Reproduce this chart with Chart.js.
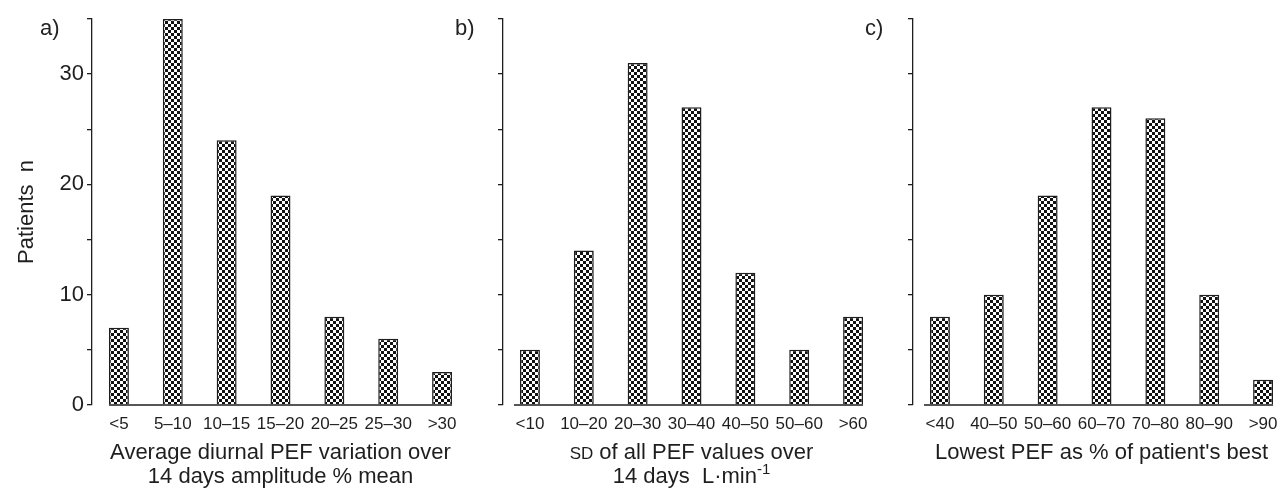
<!DOCTYPE html>
<html>
<head>
<meta charset="utf-8">
<script src="https://cdn.jsdelivr.net/npm/chart.js@4.4.1/dist/chart.umd.min.js"></script>
<style>
  html, body { margin: 0; background: #fff; overflow: hidden; width: 1277px; height: 489px; }
  .panel { position: absolute; top: 0; height: 489px; }
  .tag { position: absolute; top: 16px; font: 22px 'Liberation Sans', Arial, sans-serif; color: #222; line-height: 24px; }
</style>
</head>
<body>
<div class="panel" style="left:0;width:479px"><canvas id="chartA"></canvas></div>
<div class="panel" style="left:460px;width:430px"><canvas id="chartB"></canvas></div>
<div class="panel" style="left:870px;width:430px"><canvas id="chartC"></canvas></div>
<div class="tag" style="left:40px">a)</div>
<div class="tag" style="left:455px">b)</div>
<div class="tag" style="left:865px">c)</div>

<script>
/* categories and counts */
const catsA = ['<5', '5–10', '10–15', '15–20', '20–25', '25–30', '>30'];
const valsA = [7, 35, 24, 19, 8, 6, 3];

const catsB = ['<10', '10–20', '20–30', '30–40', '40–50', '50–60', '>60'];
const valsB = [5, 14, 31, 27, 12, 5, 8];

const catsC = ['<40', '40–50', '50–60', '60–70', '70–80', '80–90', '>90'];
const valsC = [8, 10, 19, 27, 26, 10, 2.3];

const yMax = 35;
const yStep = 5;
const yLabelEvery = 10;

const INK = '#1e1e1e';
const SANS = "'Liberation Sans', Arial, sans-serif";

/* checkered fill like the printed bars */
function checker() {
  const c = document.createElement('canvas');
  c.width = 6; c.height = 6;
  const g = c.getContext('2d');
  g.fillStyle = '#fff'; g.fillRect(0, 0, 6, 6);
  g.fillStyle = '#111'; g.fillRect(0, 0, 3, 3); g.fillRect(3, 3, 3, 3);
  return g.createPattern(c, 'repeat');
}
const pattern = checker();

/* baseline only under the bars, not joined to the y axis */
const baseline = {
  id: 'baseline',
  afterDatasetsDraw(chart, args, opts) {
    const bars = chart.getDatasetMeta(0).data;
    if (!bars.length) return;
    const first = bars[0], last = bars[bars.length - 1];
    const y = chart.scales.y.getPixelForValue(0);
    const ctx = chart.ctx;
    ctx.save();
    ctx.strokeStyle = INK;
    ctx.lineWidth = 1.5;
    ctx.beginPath();
    ctx.moveTo(first.x - first.width / 2 - (opts.lead || 0), y);
    ctx.lineTo(last.x + last.width / 2, y);
    ctx.stroke();
    ctx.restore();
  }
};

/* x-axis caption, lines made of segments so SD / superscript can differ */
const caption = {
  id: 'caption',
  afterDraw(chart, args, opts) {
    const ctx = chart.ctx;
    const cx = (chart.chartArea.left + chart.chartArea.right) / 2;
    ctx.save();
    ctx.fillStyle = INK;
    ctx.textBaseline = 'alphabetic';
    opts.lines.forEach((line, i) => {
      let w = 0;
      line.forEach(s => { ctx.font = (s.size || 22) + 'px ' + SANS; w += ctx.measureText(s.t).width; });
      let x = cx - w / 2;
      const y = opts.y + i * opts.lh;
      line.forEach(s => {
        ctx.font = (s.size || 22) + 'px ' + SANS;
        ctx.fillText(s.t, x, y + (s.dy || 0));
        x += ctx.measureText(s.t).width;
      });
    });
    ctx.restore();
  }
};

function makeChart(id, cats, vals, axisW, lines, lead, showY) {
  return new Chart(document.getElementById(id), {
    type: 'bar',
    data: {
      labels: cats,
      datasets: [{
        data: vals,
        backgroundColor: pattern,
        borderColor: INK,
        borderWidth: 1.5,
        borderSkipped: 'bottom',
        barPercentage: 20 / 54,
        categoryPercentage: 1
      }]
    },
    options: {
      responsive: true,
      maintainAspectRatio: false,
      animation: false,
      layout: { padding: { top: 19, right: 10, bottom: 0, left: 0 } },
      plugins: {
        legend: { display: false },
        tooltip: { enabled: false },
        baseline: { lead: lead },
        caption: { lines: lines, y: 459, lh: 24 }
      },
      scales: {
        x: {
          offset: true,
          grid: { display: false, drawTicks: false },
          border: { display: false },
          ticks: { color: INK, font: { family: SANS, size: 17 }, padding: 9, maxRotation: 0, autoSkip: false },
          afterFit: s => { s.height = 84; }
        },
        y: {
          min: 0,
          max: yMax,
          grid: { drawOnChartArea: false, drawTicks: true, tickLength: 5, color: INK, lineWidth: 1.3 },
          border: { color: INK, width: 1.3 },
          ticks: {
            stepSize: yStep,
            display: showY,
            color: INK,
            padding: 3,
            font: { family: SANS, size: 22 },
            callback: v => (v % yLabelEvery === 0 ? v : '')
          },
          title: {
            display: showY,
            text: 'Patients  n',
            color: INK,
            font: { family: SANS, size: 22 },
            padding: { top: 14, bottom: 0 }
          },
          afterFit: s => { s.width = axisW; }
        }
      }
    },
    plugins: [baseline, caption]
  });
}

makeChart('chartA', catsA, valsA, 92, [
  [{ t: 'Average diurnal PEF variation over' }],
  [{ t: '14 days amplitude % mean' }]
], 0, true);

makeChart('chartB', catsB, valsB, 43, [
  [{ t: 'SD', size: 17 }, { t: ' of all PEF values over' }],
  [{ t: '14 days  L·min' }, { t: '-1', size: 15, dy: -9 }]
], 6, false);

makeChart('chartC', catsC, valsC, 43, [
  [{ t: "Lowest PEF as % of patient's best" }]
], 6, false);
</script>
</body>
</html>
